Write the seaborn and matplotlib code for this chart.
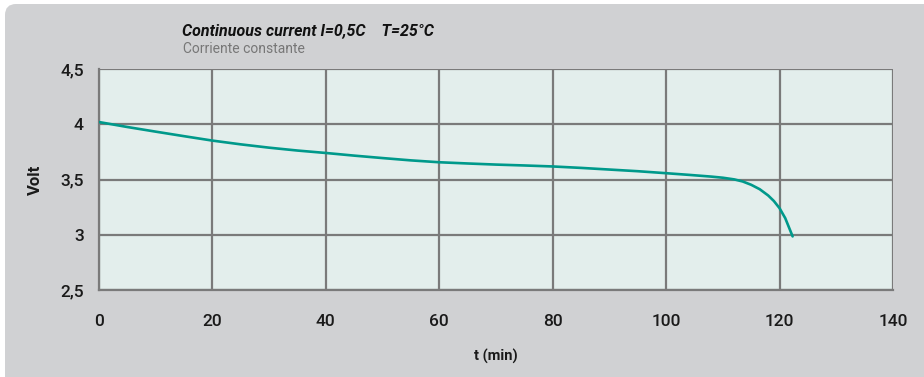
import matplotlib
matplotlib.use("Agg")

import matplotlib.pyplot as plt
import seaborn as sns
import pandas as pd
from matplotlib.patches import FancyBboxPatch


# discharge curve
time_min = [0, 5, 10, 15, 20, 25, 30, 35, 40, 45, 50, 55, 60, 65, 70, 75,
            80, 85, 90, 95, 100, 104, 108, 110, 112, 113.5, 115, 116.5, 118,
            119, 120, 121, 122.3]
voltage = [4.02, 3.975, 3.933, 3.892, 3.852, 3.818, 3.788, 3.762, 3.74,
           3.716, 3.694, 3.673, 3.656, 3.645, 3.635, 3.627, 3.618, 3.605,
           3.59, 3.575, 3.557, 3.542, 3.526, 3.516, 3.501, 3.482, 3.452,
           3.412, 3.355, 3.305, 3.24, 3.15, 2.985]

x_ticks = [0, 20, 40, 60, 80, 100, 120, 140]
y_ticks = [2.5, 3, 3.5, 4, 4.5]
y_tick_labels = ["2,5", "3", "3,5", "4", "4,5"]

title_text = "Continuous current I=0,5C    T=25°C"
subtitle_text = "Corriente constante"

PANEL = "#d0d1d3"
FACE = "#e3eeec"
GRID = "#7a7a7a"
LINE = "#00998b"

sns.set_theme(style="whitegrid")
plt.rcParams["font.family"] = ["Roboto", "DejaVu Sans"]

df = pd.DataFrame({"t": time_min, "v": voltage})

fig = plt.figure(figsize=(9.24, 3.77), dpi=100)
fig.patch.set_facecolor("white")

panel = FancyBboxPatch(
    (5 / 924, -0.1), 1.2, 1.1 - 4 / 377,
    boxstyle="round,pad=0,rounding_size=0.012",
    transform=fig.transFigure, facecolor=PANEL, edgecolor="none",
    mutation_aspect=924 / 377, zorder=-10,
)
fig.patches.append(panel)

ax = fig.add_axes([99 / 924, 1 - 290 / 377, (893 - 99) / 924, (290 - 69) / 377])
ax.set_zorder(1)
ax.set_facecolor(FACE)

sns.lineplot(data=df, x="t", y="v", ax=ax, color=LINE, linewidth=1.9,
             zorder=3, sort=False)

ax.set_xlim(0, 140)
ax.set_ylim(2.5, 4.5)
ax.set_xticks(x_ticks)
ax.set_xticklabels([str(t) for t in x_ticks])
ax.set_yticks(y_ticks)
ax.set_yticklabels(y_tick_labels)

ax.grid(True, color=GRID, linewidth=1.6)
for side in ["left", "bottom"]:
    ax.spines[side].set_visible(True)
    ax.spines[side].set_color(GRID)
    ax.spines[side].set_linewidth(1.6)
for side in ["top", "right"]:
    ax.spines[side].set_visible(False)

ax.tick_params(axis="both", direction="out", length=7, width=1.6,
               color=GRID, labelcolor="#1a1a1a", labelsize=12.5)
ax.tick_params(axis="y", pad=4)
ax.tick_params(axis="x", pad=10)
for lab in ax.get_xticklabels() + ax.get_yticklabels():
    lab.set_fontweight("medium")

ax.set_xlabel("t (min)", fontsize=10.5, fontweight="bold", color="#1a1a1a",
              labelpad=15)
ax.set_ylabel("Volt", fontsize=12, fontweight="bold", color="#1a1a1a",
              labelpad=12)

fig.text(182 / 924, 1 - 31 / 377, title_text, fontsize=11.5,
         fontweight="bold", fontstyle="italic", color="#111111",
         ha="left", va="center")
fig.text(183 / 924, 1 - 49 / 377, subtitle_text, fontsize=10,
         color="#777777", ha="left", va="center")

fig.savefig("out.png", dpi=100, facecolor=fig.get_facecolor())
plt.close(fig)
